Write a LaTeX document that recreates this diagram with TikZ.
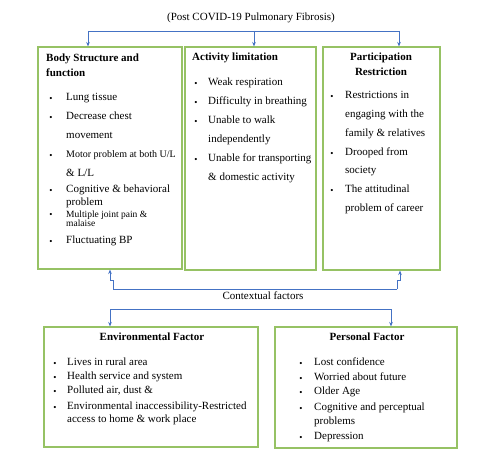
\documentclass[tikz,border=0pt]{standalone}
\usepackage{fontspec}
\setmainfont{Liberation Serif}
\usetikzlibrary{arrows.meta}
\definecolor{boxgreen}{RGB}{150,194,100}
\definecolor{connblue}{RGB}{68,114,196}
\newcommand{\bitem}[5]{% name, bullet x, text x, baseline y, text
  \node[bul] (#1b) at (#2,#4) {\textbullet};
  \node[txt] (#1) at (#3,#4) {#5};}
\begin{document}
\begin{tikzpicture}[x=1pt,y=-1pt,
  box/.style={draw=boxgreen, line width=1.1pt, inner sep=0pt},
  conn/.style={draw=connblue, line width=0.9pt},
  arr/.style={conn, -{Stealth[length=4.5pt,width=3.6pt]}},
  txt/.style={inner sep=0pt, anchor=base west, font=\fontsize{11}{13}\selectfont},
  ctxt/.style={inner sep=0pt, anchor=base, font=\fontsize{11}{13}\selectfont},
  head/.style={txt, font=\fontsize{11}{13}\selectfont\bfseries},
  chead/.style={ctxt, font=\fontsize{11}{13}\selectfont\bfseries},
  bul/.style={inner sep=0pt, anchor=base, yshift=-0.6pt, font=\fontsize{9}{11}\selectfont},
  small/.style={txt, font=\fontsize{10}{12}\selectfont},
  smaller/.style={txt, font=\fontsize{9.5}{11}\selectfont}]
\useasboundingbox (0,0) rectangle (490,460);
\fill[white] (0,0) rectangle (490,460);

% title
\node[ctxt] (title) at (251,21) {(Post COVID-19 Pulmonary Fibrosis)};

% boxes
\node[box, minimum width=144pt, minimum height=222pt] (b1) at (110,158) {};
\node[box, minimum width=131pt, minimum height=223pt] (b2) at (250.5,158.5) {};
\node[box, minimum width=117pt, minimum height=223pt] (b3) at (381.5,158.5) {};
\node[box, minimum width=214pt, minimum height=120pt] (b4) at (151,387) {};
\node[box, minimum width=182pt, minimum height=121pt] (b5) at (366,387.5) {};

% top connectors
\coordinate (ta) at (88,31);
\coordinate (tb) at (254,31);
\coordinate (tc) at (399,31);
\draw[conn] (ta) -- (tc);
\draw[arr] (ta) -- (ta |- b1.north);
\draw[arr] (tb) -- (tb |- b2.north);
\draw[arr] (tc) -- (tc |- b3.north);

% contextual factors connectors
\node[ctxt] (ctx) at (263,299) {Contextual factors};
\coordinate (ua) at (113,289);
\coordinate (ub) at (397,289);
\draw[conn] (ua) -- (ub);
\draw[arr] (ua) -- ++(0,-9) -| (b1.south);
\draw[arr] (ub) -- ++(0,-9) -| ([xshift=18.5pt]b3.south);
\coordinate (la) at (110,309);
\coordinate (lb) at (391,309);
\draw[conn] (la) -- (lb);
\draw[arr] (la) -- (la |- b4.north);
\draw[arr] (lb) -- (lb |- b5.north);

% box 1 text
\node[head] (h1a) at (46,61.5) {Body Structure and};
\node[head] (h1b) at (46,76.5) {function};
\bitem{i11}{51}{66}{100.5}{Lung tissue}
\bitem{i12}{51}{66}{119.5}{Decrease chest}
\node[txt] (i12c) at (66,138.5) {movement};
\node[bul] (i13b) at (51,157.5) {\textbullet};
\node[small] (i13) at (66,157.5) {Motor problem at both U/L};
\node[txt] (i13c) at (66,176.5) {\& L/L};
\bitem{i14}{51}{66}{192.5}{Cognitive \& behavioral}
\node[txt] (i14c) at (66,205.5) {problem};
\node[bul] (i15b) at (51,217) {\textbullet};
\node[smaller] (i15) at (66,217) {Multiple joint pain \&};
\node[smaller] (i15c) at (66,226) {malaise};
\bitem{i16}{51}{66}{243.5}{Fluctuating BP}

% box 2 text
\node[head] (h2) at (192,60.5) {Activity limitation};
\bitem{i21}{196}{208}{85.5}{Weak respiration}
\bitem{i22}{196}{208}{104.5}{Difficulty in breathing}
\bitem{i23}{196}{208}{123.5}{Unable to walk}
\node[txt] (i23c) at (208,142.5) {independently};
\bitem{i24}{196}{208}{161.5}{Unable for transporting}
\node[txt] (i24c) at (208,180.5) {\& domestic activity};

% box 3 text
\node[chead] (h3a) at (381,60.5) {Participation};
\node[chead] (h3b) at (381,75.5) {Restriction};
\bitem{i31}{332}{345}{98.5}{Restrictions in}
\node[txt] (i31c) at (345,117.5) {engaging with the};
\node[txt] (i31d) at (345,136.5) {family \& relatives};
\bitem{i32}{332}{345}{155.5}{Drooped from}
\node[txt] (i32c) at (345,173.5) {society};
\bitem{i33}{332}{345}{192.5}{The attitudinal}
\node[txt] (i33c) at (345,211.5) {problem of career};

% box 4 text
\node[chead] (h4) at (152,340.5) {Environmental Factor};
\bitem{i41}{55}{67}{365.5}{Lives in rural area}
\bitem{i42}{55}{67}{379.5}{Health service and system}
\bitem{i43}{55}{67}{393.5}{Polluted air, dust \&}
\bitem{i44}{55}{67}{409.5}{Environmental inaccessibility-Restricted}
\node[txt] (i44c) at (67,422.5) {access to home \& work place};

% box 5 text
\node[chead] (h5) at (367,340.5) {Personal Factor};
\bitem{i51}{301}{314}{365.5}{Lost confidence}
\bitem{i52}{301}{314}{380.5}{Worried about future}
\bitem{i53}{301}{314}{394.5}{Older Age}
\bitem{i54}{301}{314}{410.5}{Cognitive and perceptual}
\node[txt] (i54c) at (314,424.5) {problems};
\bitem{i55}{301}{314}{439.5}{Depression}
\end{tikzpicture}
\end{document}
